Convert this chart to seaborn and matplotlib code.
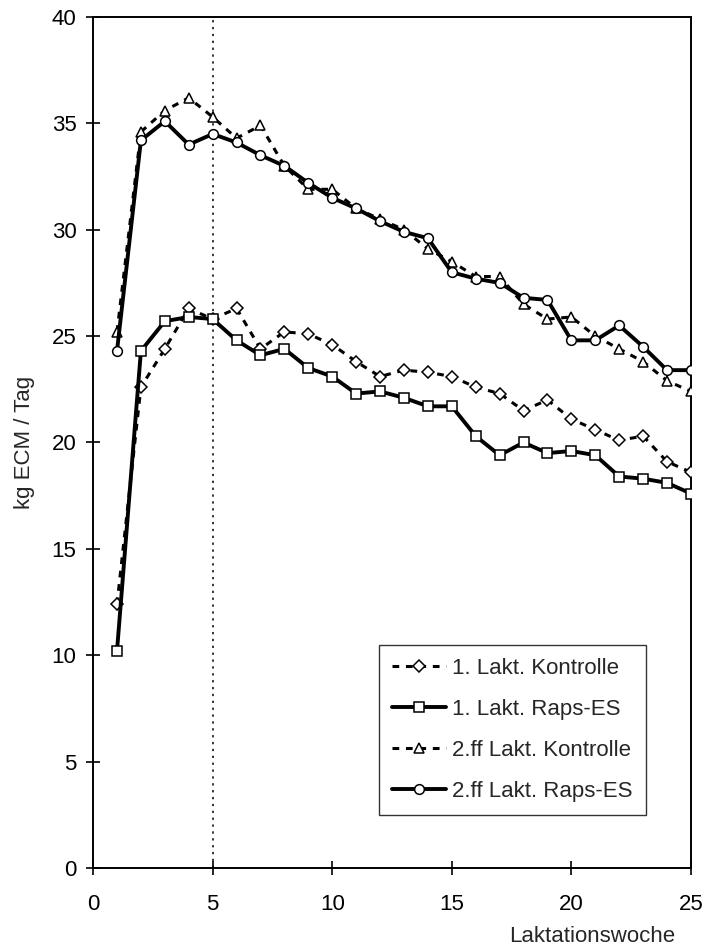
"""ECM milk yield over lactation weeks."""

import matplotlib

matplotlib.use("Agg")
import matplotlib.pyplot as plt
import numpy as np
import pandas as pd
import seaborn as sns

weeks = list(range(1, 26))

lakt1_kontrolle = [12.4, 22.6, 24.4, 26.3, 25.8, 26.3, 24.4, 25.2, 25.1, 24.6,
                   23.8, 23.1, 23.4, 23.3, 23.1, 22.6, 22.3, 21.5, 22.0, 21.1,
                   20.6, 20.1, 20.3, 19.1, 18.6]
lakt1_raps = [10.2, 24.3, 25.7, 25.9, 25.8, 24.8, 24.1, 24.4, 23.5, 23.1,
              22.3, 22.4, 22.1, 21.7, 21.7, 20.3, 19.4, 20.0, 19.5, 19.6,
              19.4, 18.4, 18.3, 18.1, 17.6]
lakt2_kontrolle = [25.2, 34.6, 35.6, 36.2, 35.3, 34.3, 34.9, 33.0, 31.9, 31.9,
                   31.0, 30.5, 30.0, 29.1, 28.5, 27.8, 27.8, 26.5, 25.8, 25.9,
                   25.0, 24.4, 23.8, 22.9, 22.4]
lakt2_raps = [24.3, 34.2, 35.1, 34.0, 34.5, 34.1, 33.5, 33.0, 32.2, 31.5,
              31.0, 30.4, 29.9, 29.6, 28.0, 27.7, 27.5, 26.8, 26.7, 24.8,
              24.8, 25.5, 24.5, 23.4, 23.4]

series = {
    "1. Lakt. Kontrolle": lakt1_kontrolle,
    "1. Lakt. Raps-ES": lakt1_raps,
    "2.ff Lakt. Kontrolle": lakt2_kontrolle,
    "2.ff Lakt. Raps-ES": lakt2_raps,
}
styles = {
    "1. Lakt. Kontrolle": dict(marker="D", ls=(0, (2.2, 2.2)), lw=2.2, ms=6),
    "1. Lakt. Raps-ES": dict(marker="s", ls="-", lw=2.8, ms=7.5),
    "2.ff Lakt. Kontrolle": dict(marker="^", ls=(0, (2.2, 2.2)), lw=2.2, ms=7),
    "2.ff Lakt. Raps-ES": dict(marker="o", ls="-", lw=2.8, ms=7),
}

df = pd.DataFrame(
    [(name, w, v) for name, vals in series.items() for w, v in zip(weeks, vals)],
    columns=["gruppe", "woche", "ecm"],
)

sns.set_style("ticks")
plt.rcParams["font.family"] = ["Liberation Sans", "DejaVu Sans"]
FS = 16

fig = plt.figure(figsize=(7.16, 9.48), dpi=100)
ax = fig.add_axes([0.130, 0.0844, 0.835, 0.8977])

ax.axvline(5, color="black", ls=(0, (1.5, 3)), lw=1.1, zorder=1)

for name in series:
    st = styles[name]
    sub = df[df["gruppe"] == name]
    sns.lineplot(
        data=sub, x="woche", y="ecm", ax=ax, label=name, color="black",
        marker=st["marker"], markersize=st["ms"], markerfacecolor="white",
        markeredgecolor="black", markeredgewidth=1.1,
        linestyle=st["ls"], linewidth=st["lw"], zorder=3,
    )

ax.set_xlim(0, 25)
ax.set_ylim(0, 40)
ax.set_xticks(np.arange(0, 26, 5))
ax.set_yticks(np.arange(0, 41, 5))
ax.tick_params(direction="inout", length=10, width=1.2, labelsize=FS,
               colors="black")
ax.tick_params(axis="x", pad=14)
ax.tick_params(axis="y", pad=7)
for s in ax.spines.values():
    s.set_linewidth(1.4)
    s.set_color("black")

ax.set_xlabel("")
ax.set_ylabel("kg ECM / Tag", fontsize=FS, labelpad=12)
fig.text(592 / 716, 1 - 937 / 948, "Laktationswoche", fontsize=FS,
         ha="center", va="center")

leg = ax.legend(loc="lower right", bbox_to_anchor=(0.925, 0.062), fontsize=FS,
                frameon=True, fancybox=False, edgecolor="black",
                handlelength=2.4, labelspacing=0.9, borderpad=0.6,
                handletextpad=0.3, borderaxespad=0)
leg.get_frame().set_linewidth(1.0)

fig.savefig("out.png", dpi=100)
plt.close(fig)
